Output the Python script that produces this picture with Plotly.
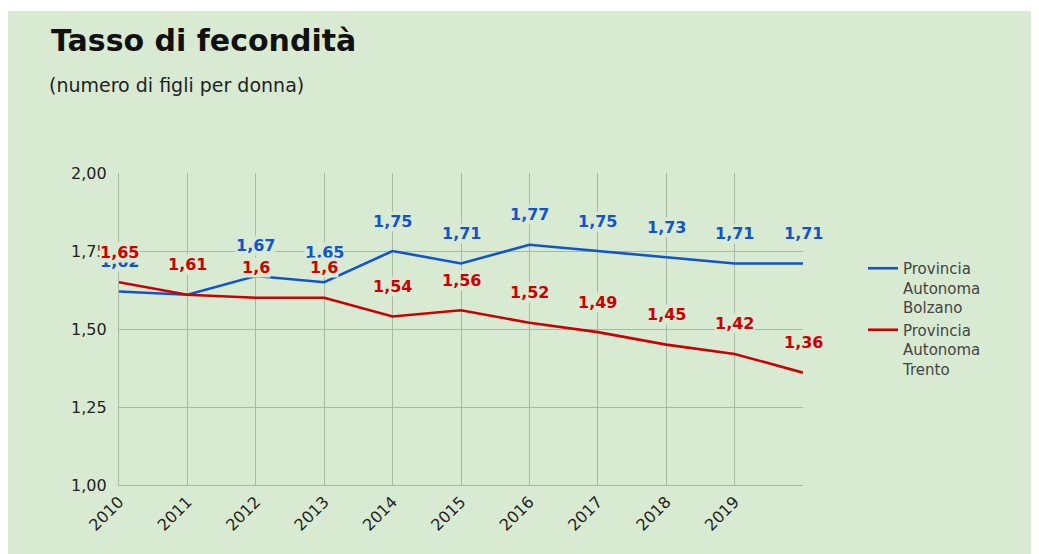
import plotly.graph_objects as go

years = [2010, 2011, 2012, 2013, 2014, 2015, 2016, 2017, 2018, 2019, 2020]
tick_years = [2010, 2011, 2012, 2013, 2014, 2015, 2016, 2017, 2018, 2019]
tick_year_labels = ["2010", "2011", "2012", "2013", "2014", "2015", "2016", "2017", "2018", "2019"]
bolzano = [1.62, 1.61, 1.67, 1.65, 1.75, 1.71, 1.77, 1.75, 1.73, 1.71, 1.71]
trento = [1.65, 1.61, 1.60, 1.60, 1.54, 1.56, 1.52, 1.49, 1.45, 1.42, 1.36]
y_ticks = [1.00, 1.25, 1.50, 1.75, 2.00]
y_tick_labels = ["1,00", "1,25", "1,50", "1,75", "2,00"]
series_names = ["Provincia<br>Autonoma<br>Bolzano", "Provincia<br>Autonoma<br>Trento"]
series_colors = ["#1155cc", "#cc0000"]

BG = "#d9ead3"
GRID = "#aab7a5"
FONT = "DejaVu Sans"

# figure size and plot area in figure pixels
W, H = 1031, 546
L, R, T, B = 111, 795, 165, 477


def px_x(p):
    return (p - L) / (R - L)


def px_y(p):
    return (B - p) / (B - T)


fig = go.Figure()
for name, vals, col in zip(series_names, [bolzano, trento], series_colors):
    fig.add_trace(go.Scatter(x=years, y=vals, mode="lines", name=name,
                             line=dict(color=col, width=2.6), hoverinfo="skip"))

annotations = []
for vals, col in zip([bolzano, trento], series_colors):
    for x, v in zip(years, vals):
        annotations.append(dict(
            x=x, y=v, xref="x", yref="y", text=f"{v:g}".replace(".", ","),
            showarrow=False, yanchor="middle", xanchor="center", yshift=30,
            font=dict(family=FONT, size=16, color=col, weight="bold"),
            bgcolor=BG, borderpad=0))

annotations.append(dict(
    xref="paper", yref="paper", x=px_x(41), y=px_y(33), xanchor="left", yanchor="middle",
    text="<b>Tasso di fecondità</b>", showarrow=False,
    font=dict(family=FONT, size=30, color="#111111")))
annotations.append(dict(
    xref="paper", yref="paper", x=px_x(39), y=px_y(77), xanchor="left", yanchor="middle",
    text="(numero di figli per donna)", showarrow=False,
    font=dict(family=FONT, size=19, color="#222222")))

shapes = [
    dict(type="rect", xref="paper", yref="paper", x0=px_x(0), x1=px_x(W),
         y0=px_y(3), y1=px_y(0), fillcolor="white", line=dict(width=0), layer="above"),
]

fig.update_layout(
    width=W, height=H,
    margin=dict(l=L, r=W - R, t=T, b=H - B, autoexpand=False),
    paper_bgcolor=BG, plot_bgcolor=BG,
    font=dict(family=FONT, color="#222222"),
    annotations=annotations, shapes=shapes,
    showlegend=True,
    legend=dict(x=px_x(855), y=px_y(244), xanchor="left", yanchor="top",
                bgcolor="rgba(0,0,0,0)", valign="top",
                font=dict(family=FONT, size=15, color="#444444"),
                tracegroupgap=6),
    xaxis=dict(range=[2010, 2020], tickvals=tick_years, ticktext=tick_year_labels,
               tickangle=-45, showgrid=True, gridcolor=GRID, gridwidth=1.3,
               showline=True, linecolor=GRID, linewidth=1.3, zeroline=False,
               tickfont=dict(family=FONT, size=16, color="#222222"), fixedrange=True),
    yaxis=dict(range=[1, 2], tickvals=y_ticks, ticktext=y_tick_labels,
               showgrid=True, gridcolor=GRID, gridwidth=1.3,
               showline=True, linecolor=GRID, linewidth=1.3, zeroline=False,
               ticklabelstandoff=8,
               tickfont=dict(family=FONT, size=16, color="#222222"), fixedrange=True),
)

fig.write_html("out.html")
